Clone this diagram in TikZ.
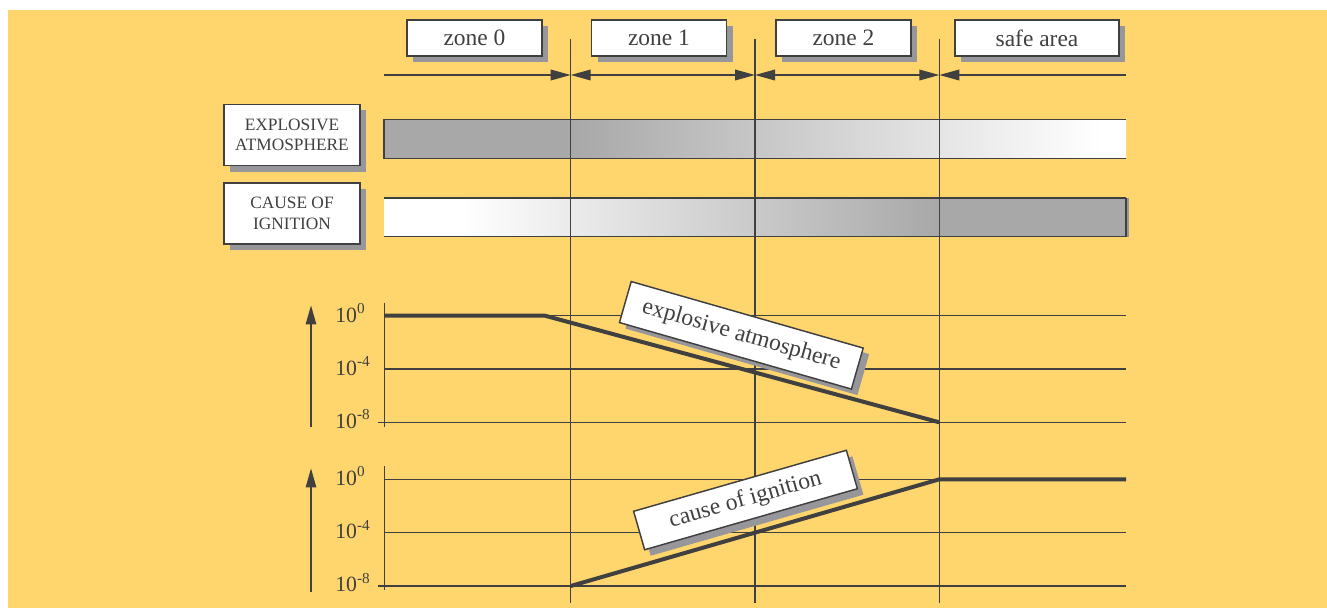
\documentclass[tikz,border=0pt]{standalone}
\usepackage{fontspec}
\setmainfont{Liberation Serif}
\usetikzlibrary{arrows.meta,shadows}

\definecolor{bgyellow}{RGB}{255,214,110}
\definecolor{linegray}{RGB}{64,64,64}
\definecolor{bandgray}{RGB}{168,168,168}
\definecolor{shadowgray}{RGB}{150,150,155}

\tikzset{
  thinline/.style={draw=linegray, line width=1.1pt},
  curveline/.style={draw=linegray, line width=3pt},
  boxshadow/.style={drop shadow={shadow xshift=4.5pt, shadow yshift=-4.5pt, fill=shadowgray, opacity=1}},
  zonebox/.style={draw=linegray, line width=1.1pt, fill=white, boxshadow, inner sep=0pt,
    minimum height=27pt, text=linegray, font=\fontsize{17.6}{21}\selectfont},
  sidebox/.style={draw=linegray, line width=1.1pt, fill=white, boxshadow, inner sep=0pt,
    minimum width=102pt, minimum height=46pt, align=center, text=linegray,
    font=\fontsize{13}{15.5}\selectfont},
  curvebox/.style={draw=linegray, line width=1.1pt, fill=white, boxshadow, inner sep=0pt,
    text=linegray, font=\fontsize{17.7}{21}\selectfont},
  axislabel/.style={anchor=base west, inner sep=0pt, text=linegray, font=\fontsize{16.3}{19}\selectfont},
  zonearrow/.style={draw=linegray, line width=1.1pt},
  zonetip/.tip={Triangle[length=15pt, width=8pt]},
  axistip/.tip={Triangle[length=14.5pt, width=7.5pt]}
}

\begin{document}
\begin{tikzpicture}[x=0.75pt,y=0.75pt,yscale=-1,xscale=1]
\useasboundingbox (0,0) rectangle (1327,608);
%Shape: Rectangle (background)
\fill[bgyellow] (8,10) rectangle (1327,608);

%Zone boundaries
\coordinate (b0) at (384,75);
\coordinate (b1) at (570.7,75);
\coordinate (b2) at (755,75);
\coordinate (b3) at (939.3,75);
\coordinate (b4) at (1126,75);

%Shape: Bands
\fill[bandgray] (384,119.3) rectangle (570.7,158.3);
\shade[left color=bandgray, right color=white] (570.7,119.3) rectangle (1100,158.3);
\fill[white] (1100,119.3) rectangle (1126,158.3);
\draw[thinline] (1126,119.3) -- (384,119.3) -- (384,158.3) -- (1126,158.3);
\fill[white] (384,198) rectangle (461,236.7);
\shade[left color=white, right color=bandgray] (461,198) rectangle (939.3,236.7);
\fill[bandgray] (939.3,198) rectangle (1126,236.7);
\fill[shadowgray] (1126,198) rectangle (1129,236.7);
\draw[thinline] (384,198) -- (1126,198);
\draw[thinline] (384,236.7) -- (1126,236.7);
\draw[linegray, line width=1.8pt] (1126,198) -- (1126,236.7);

%Straight Lines (grid of the two charts)
\foreach \y in {315.7,369,422.3,479.3,532.7,586}
  \draw[thinline] (384,\y) -- (1126,\y);
\draw[thinline] (378,422.3) -- (384,422.3);
\draw[thinline] (378,586) -- (384,586);
\draw[thinline] (384.3,302.7) -- (384.3,426.7);
\draw[thinline] (384.3,466) -- (384.3,590);

%Straight Lines (zone boundaries)
\foreach \x in {570.7,755,939.3}
  \draw[thinline] (\x,38.7) -- (\x,603);

%Arrows between zones
\draw[zonearrow, -zonetip] (b0) -- (b1);
\draw[zonearrow, zonetip-zonetip] (b1) -- (b2);
\draw[zonearrow, zonetip-zonetip] (b2) -- (b3);
\draw[zonearrow, zonetip-] (b3) -- (b4);

%Vertical axes
\draw[draw=linegray, line width=2pt, -axistip] (311,427.3) -- (311,305);
\draw[draw=linegray, line width=2pt, -axistip] (311,591.7) -- (311,468);

%Curves
\coordinate (e0) at (384,315.7);
\coordinate (e1) at (545,315.7);
\coordinate (e2) at (939.3,422.3);
\draw[curveline] (e0) -- (e1) -- (e2);
\coordinate (c0) at (570.7,586);
\coordinate (c1) at (939.3,479.3);
\coordinate (c2) at (1126,479.3);
\draw[curveline] (c0) -- (c1) -- (c2);

% Text Node
\draw (474.5,38) node (zone0) [zonebox, minimum width=101.25pt] {zone 0};
% Text Node
\draw (659,38) node (zone1) [zonebox, minimum width=101.25pt] {zone 1};
% Text Node
\draw (843.5,38) node (zone2) [zonebox, minimum width=101.25pt] {zone 2};
% Text Node
\draw (1037,38) node (safe) [zonebox, minimum width=123pt] {safe area};
% Text Node
\draw (292,135) node (expl) [sidebox] {EXPLOSIVE\\ATMOSPHERE};
% Text Node
\draw (292,213.5) node (ign) [sidebox] {CAUSE OF\\IGNITION};
% Text Node
\draw (741.3,335.3) node (explcurve) [curvebox, rotate=-16, minimum width=181pt, minimum height=32pt] {explosive atmosphere};
% Text Node
\draw (745.5,500) node (igncurve) [curvebox, rotate=16, minimum width=166pt, minimum height=30pt] {cause of ignition};

% Axis labels
\draw (335,322) node (ea0) [axislabel] {10\textsuperscript{0}};
\draw (335,375) node (ea4) [axislabel] {10\textsuperscript{-4}};
\draw (335,428) node (ea8) [axislabel] {10\textsuperscript{-8}};
\draw (335,485) node (ca0) [axislabel] {10\textsuperscript{0}};
\draw (335,538.5) node (ca4) [axislabel] {10\textsuperscript{-4}};
\draw (335,591.5) node (ca8) [axislabel] {10\textsuperscript{-8}};
\end{tikzpicture}
\end{document}
